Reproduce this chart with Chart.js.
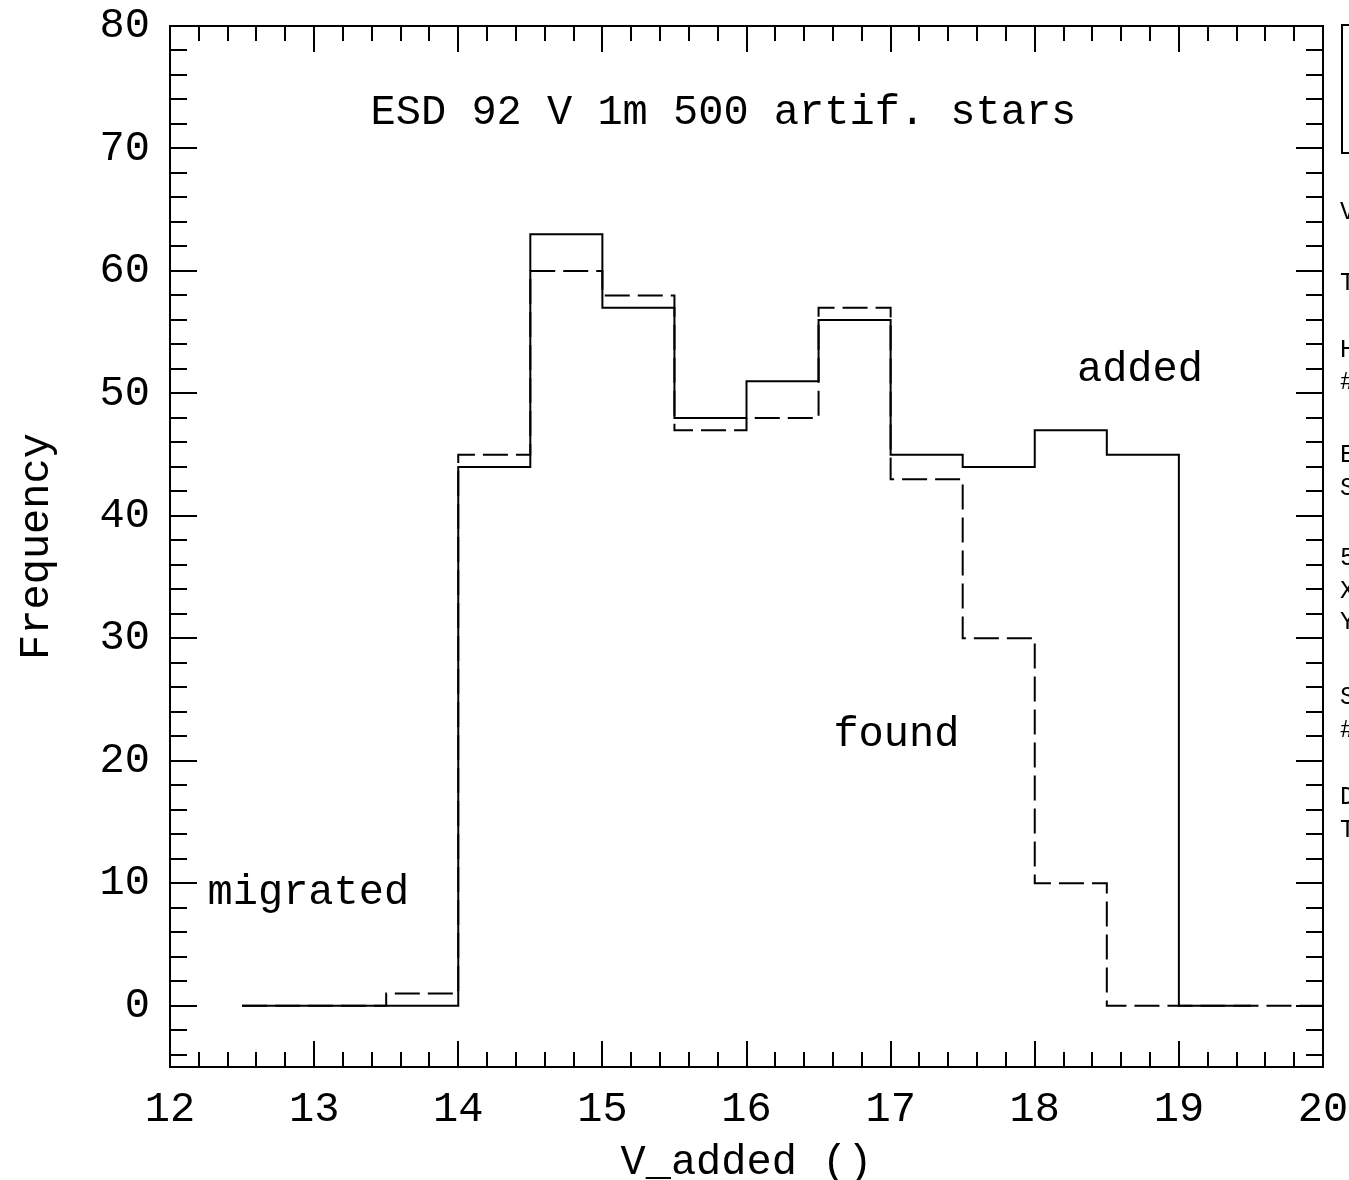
<!DOCTYPE html>
<html>
<head>
<meta charset="utf-8">
<title>ESD 92 V 1m 500 artif. stars</title>
<script src="https://cdn.jsdelivr.net/npm/chart.js@4.4.1/dist/chart.umd.min.js"></script>
<style>
  html, body { margin: 0; padding: 0; background: #fff; }
  canvas { display: block; }
</style>
</head>
<body>
<canvas id="histo" width="1349" height="1180"></canvas>
<script>
// bin edges (left edges) and counts
const addedEdges = [12.5, 13, 13.5, 14, 14.5, 15, 15.5, 16, 16.5, 17, 17.5, 18, 18.5, 19, 19.5];
const addedCounts = [0, 0, 0, 44, 63, 57, 48, 51, 56, 45, 44, 47, 45, 0, 0];
const addedEnd = 19.5;

const foundEdges = [12.5, 13, 13.5, 14, 14.5, 15, 15.5, 16, 16.5, 17, 17.5, 18, 18.5, 19, 19.5];
const foundCounts = [0, 0, 1, 45, 60, 58, 47, 48, 57, 43, 30, 10, 0, 0, 0];
const foundEnd = 20;

const xTicks = [12, 13, 14, 15, 16, 17, 18, 19, 20];
const yTicks = [0, 10, 20, 30, 40, 50, 60, 70, 80];

// text placed in data coordinates
const notes = [
    { text: 'ESD 92 V 1m 500 artif. stars', x: 15.84, y: 72.9 },
    { text: 'added', x: 18.73, y: 51.9 },
    { text: 'found', x: 17.04, y: 22.1 },
    { text: 'migrated', x: 12.96, y: 9.2 }
];

// first letters of the side panel, cut off by the picture edge
const sideChars = ['V', 'T', 'H', '#', 'E', 'S', '5', 'X', 'Y', 'S', '#', 'D', 'T'];
const sideRows = [212, 283, 350, 382, 455, 488, 558, 591, 622, 697, 730, 797, 830];

const FONT = 'Liberation Mono';

function stepPoints(edges, counts, end) {
    const pts = edges.map((e, i) => ({ x: e, y: counts[i] }));
    pts.push({ x: end, y: counts[counts.length - 1] });
    return pts;
}

const frame = {
    id: 'frame',
    afterDraw(chart) {
        const { ctx, chartArea: a, scales: { x, y } } = chart;
        ctx.save();
        ctx.strokeStyle = '#000';
        ctx.lineWidth = 2;
        ctx.strokeRect(a.left, a.top, a.right - a.left, a.bottom - a.top);

        ctx.beginPath();
        // x ticks every 0.2, major at integers
        for (let i = 0; i <= 40; i++) {
            const px = Math.round(x.getPixelForValue(12 + i * 0.2));
            const len = i % 5 === 0 ? 26 : 15;
            ctx.moveTo(px, a.bottom); ctx.lineTo(px, a.bottom - len);
            ctx.moveTo(px, a.top); ctx.lineTo(px, a.top + len);
        }
        // y ticks every 2, major at multiples of 10
        for (let v = -4; v <= 80; v += 2) {
            const py = Math.round(y.getPixelForValue(v));
            const len = v % 10 === 0 ? 27 : 17;
            ctx.moveTo(a.left, py); ctx.lineTo(a.left + len, py);
            ctx.moveTo(a.right, py); ctx.lineTo(a.right - len, py);
        }
        ctx.stroke();

        ctx.fillStyle = '#000';
        ctx.font = '42px "' + FONT + '"';
        ctx.textAlign = 'center';
        ctx.textBaseline = 'middle';
        notes.forEach(n => ctx.fillText(n.text, x.getPixelForValue(n.x), y.getPixelForValue(n.y)));

        // cut-off legend box and side text
        ctx.strokeRect(1342, 25, 60, 128);
        ctx.font = '25px "' + FONT + '"';
        ctx.textAlign = 'left';
        sideChars.forEach((c, i) => ctx.fillText(c, 1340, sideRows[i]));
        ctx.restore();
    }
};

const tickFont = { family: FONT, size: 42 };

new Chart(document.getElementById('histo').getContext('2d'), {
    type: 'line',
    data: {
        datasets: [{
            label: 'added',
            data: stepPoints(addedEdges, addedCounts, addedEnd),
            stepped: 'before',
            borderColor: '#000',
            borderWidth: 2,
            pointRadius: 0,
            fill: false
        }, {
            label: 'found',
            data: stepPoints(foundEdges, foundCounts, foundEnd),
            stepped: 'before',
            borderColor: '#000',
            borderWidth: 2,
            borderDash: [25, 8],
            pointRadius: 0,
            fill: false
        }]
    },
    options: {
        responsive: false,
        animation: false,
        layout: { padding: { top: 26, right: 26, left: 0, bottom: 0 } },
        plugins: {
            legend: { display: false },
            tooltip: { enabled: false }
        },
        scales: {
            x: {
                type: 'linear',
                min: 12,
                max: 20,
                grid: { display: false, drawTicks: false },
                border: { display: false },
                afterBuildTicks: s => { s.ticks = xTicks.map(v => ({ value: v })); },
                afterFit: s => { s.height = 113; s.paddingLeft = 0; s.paddingRight = 0; },
                ticks: { font: tickFont, color: '#000', padding: 18, maxRotation: 0, autoSkip: false },
                title: {
                    display: true, text: 'V_added ()', color: '#000',
                    font: { family: FONT, size: 42, lineHeight: 0.8 }, padding: 0
                }
            },
            y: {
                type: 'linear',
                min: -5,
                max: 80,
                grid: { display: false, drawTicks: false },
                border: { display: false },
                afterBuildTicks: s => { s.ticks = yTicks.map(v => ({ value: v })); },
                afterFit: s => { s.width = 170; s.paddingTop = 0; s.paddingBottom = 0; },
                ticks: { font: tickFont, color: '#000', padding: 20, autoSkip: false },
                title: {
                    display: true, text: 'Frequency', color: '#000',
                    font: { family: FONT, size: 42, lineHeight: 0.8 }, padding: { top: 20, bottom: 0 }
                }
            }
        }
    },
    plugins: [frame]
});
</script>
</body>
</html>
